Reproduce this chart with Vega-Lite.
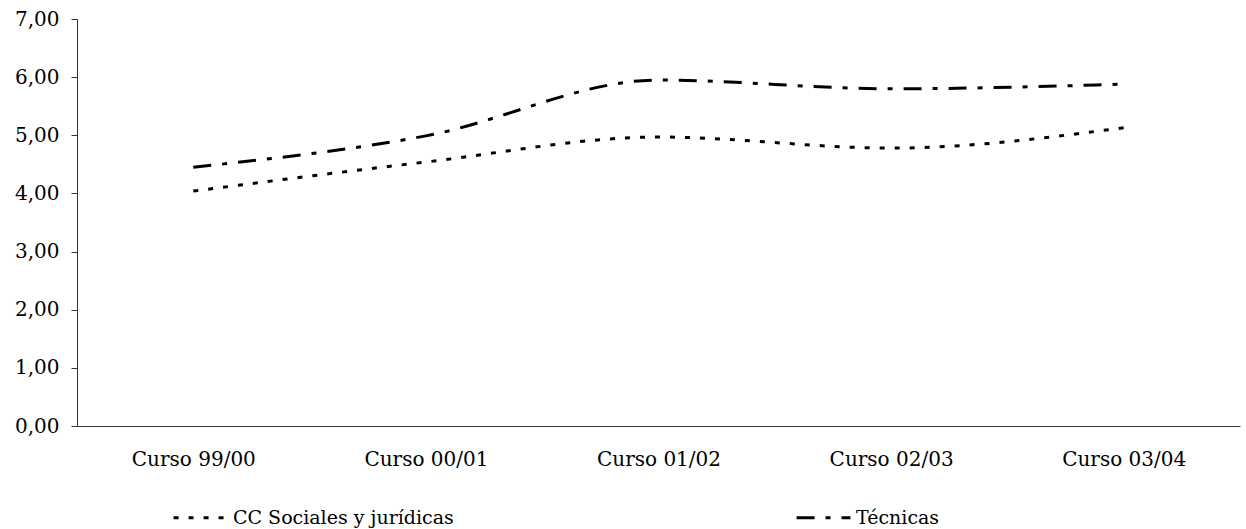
{
  "$schema": "https://vega.github.io/schema/vega-lite/v6.json",
  "width": 1163,
  "height": 407,
  "autosize": {"type": "none"},
  "padding": {"left": 77, "top": 19, "right": 6, "bottom": 103},
  "background": "white",
  "config": {
    "view": {"stroke": null},
    "font": "DejaVu Serif",
    "axis": {"labelFont": "DejaVu Serif", "labelColor": "black", "domainColor": "#333", "tickColor": "#333"},
    "legend": {"labelFont": "DejaVu Serif", "labelColor": "black"}
  },
  "data": {
    "values": [
      {"curso": "Curso 99/00", "serie": "CC Sociales y jurídicas", "valor": 4.04},
      {"curso": "Curso 00/01", "serie": "CC Sociales y jurídicas", "valor": 4.54},
      {"curso": "Curso 01/02", "serie": "CC Sociales y jurídicas", "valor": 4.97},
      {"curso": "Curso 02/03", "serie": "CC Sociales y jurídicas", "valor": 4.78},
      {"curso": "Curso 03/04", "serie": "CC Sociales y jurídicas", "valor": 5.13},
      {"curso": "Curso 99/00", "serie": "Técnicas", "valor": 4.45},
      {"curso": "Curso 00/01", "serie": "Técnicas", "valor": 4.99},
      {"curso": "Curso 01/02", "serie": "Técnicas", "valor": 5.95},
      {"curso": "Curso 02/03", "serie": "Técnicas", "valor": 5.80},
      {"curso": "Curso 03/04", "serie": "Técnicas", "valor": 5.88}
    ]
  },
  "mark": {"type": "line", "interpolate": "monotone", "strokeWidth": 3, "color": "black", "strokeCap": "butt"},
  "encoding": {
    "x": {
      "field": "curso", "type": "ordinal", "sort": null,
      "scale": {"type": "point", "padding": 0.5},
      "axis": {"title": null, "labelAngle": 0, "ticks": false, "labelFontSize": 20, "labelPadding": 23, "domainWidth": 1}
    },
    "y": {
      "field": "valor", "type": "quantitative",
      "scale": {"domain": [0, 7], "nice": false, "zero": true},
      "axis": {"title": null, "values": [0, 1, 2, 3, 4, 5, 6, 7], "grid": false, "tickSize": 6, "labelFontSize": 20, "labelPadding": 12,
        "labelExpr": "replace(format(datum.value, '.2f'), '.', ',')"}
    },
    "strokeDash": {
      "field": "serie", "type": "nominal",
      "scale": {"domain": ["CC Sociales y jurídicas", "Técnicas"], "range": [[5, 10], [18, 11, 5, 11]]},
      "legend": {
        "title": null, "orient": "none", "direction": "horizontal",
        "legendX": 95, "legendY": 470,
        "symbolType": "stroke", "symbolSize": 2900, "symbolStrokeWidth": 3, "symbolStrokeColor": "black",
        "labelFontSize": 19, "labelOffset": 4, "columnPadding": 336, "labelLimit": 400
      }
    }
  }
}
